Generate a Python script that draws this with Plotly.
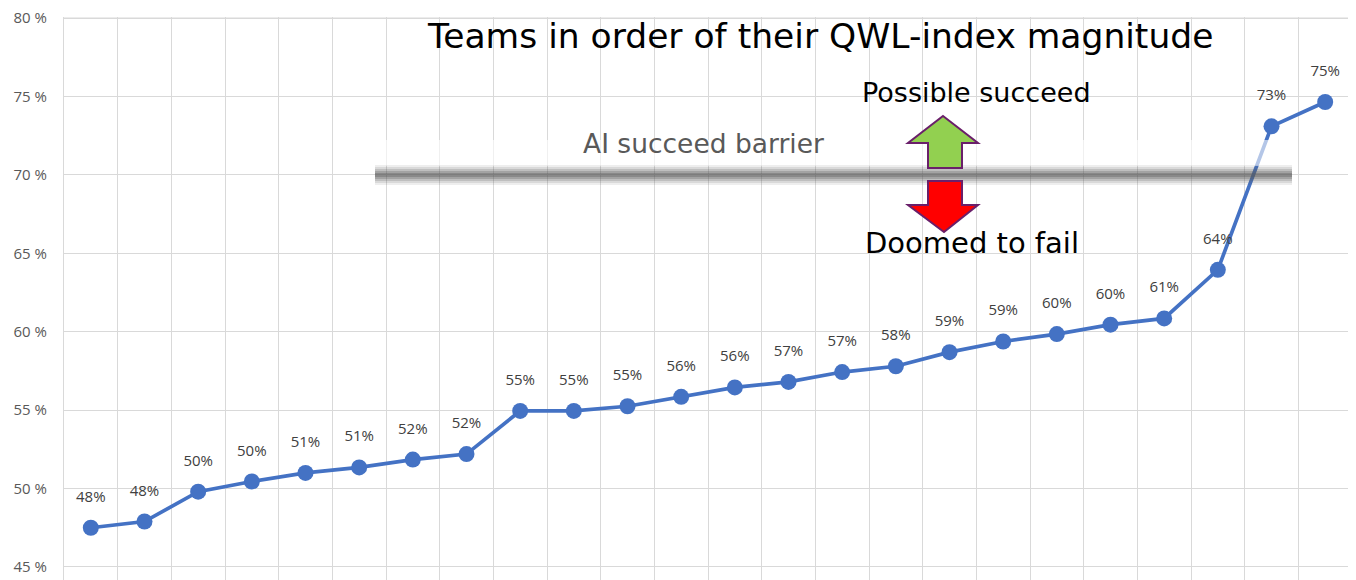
import plotly.graph_objects as go

# ---- data ----
teams = list(range(1, 25))
qwl_index = [47.5, 47.9, 49.8, 50.45, 51.0, 51.35, 51.85, 52.2, 54.95, 54.95,
             55.25, 55.85, 56.45, 56.8, 57.43, 57.8, 58.7, 59.38, 59.85, 60.45,
             60.85, 63.95, 73.1, 74.65]
y_ticks = [45, 50, 55, 60, 65, 70, 75, 80]
barrier = 70.0

# page body adds an 8px margin; size the figure so it fits the 1356x580 window
OFF = 8
W, H = 1356 - OFF, 580 - OFF
L, R, T, B = 64 - OFF, 4, 17 - OFF, 0
pw, ph = W - L - R, H - T - B


def px(x):  # screen pixel -> paper fraction
    return (x - OFF - L) / pw


def py(y):
    return (H - B - (y - OFF)) / ph


fig = go.Figure()
fig.add_trace(go.Scatter(
    x=teams, y=qwl_index, mode="lines+markers",
    line=dict(color="#4472c4", width=3.7),
    marker=dict(color="#4472c4", size=16),
    hoverinfo="skip",
))
fig.add_trace(go.Scatter(
    x=teams, y=qwl_index, mode="markers+text",
    marker=dict(size=34, opacity=0),
    texttemplate="%{y:.0f}%", textposition="top center",
    textfont=dict(family="Open Sans", size=15, color="#404040"),
    hoverinfo="skip", cliponaxis=False,
))

shapes = []
# top gridline (80 %)
shapes.append(dict(type="line", xref="paper", yref="y", x0=0, x1=1,
                   y0=y_ticks[-1], y1=y_ticks[-1],
                   line=dict(color="#d9d9d9", width=1.3), layer="below"))
# white translucent area above barrier
shapes.append(dict(type="rect", xref="paper", yref="paper",
                   x0=px(375), x1=px(1292), y0=py(166), y1=py(140),
                   fillcolor="rgba(255,255,255,0.6)", line=dict(width=0), layer="above"))
# blurred barrier band
for hh, op in [(10, 0.10), (8, 0.14), (6, 0.2), (4, 0.28), (2, 0.35)]:
    shapes.append(dict(type="rect", xref="paper", yref="y",
                       x0=px(375), x1=px(1292),
                       y0=barrier - hh / 15.68, y1=barrier + hh / 15.68,
                       fillcolor=f"rgba(90,90,90,{op})", line=dict(width=0), layer="above"))


def path(pts):
    return "M " + " L ".join(f"{px(a):.5f},{py(b):.5f}" for a, b in pts) + " Z"


up = [(943, 116), (978, 143), (962, 143), (962, 168), (928, 168), (928, 143), (908, 143)]
down = [(928, 181), (962, 181), (962, 205), (978, 205), (944, 232), (908, 205), (928, 205)]
shapes.append(dict(type="path", xref="paper", yref="paper", path=path(up),
                   fillcolor="#92d050", line=dict(color="#6a1f6a", width=2), layer="above"))
shapes.append(dict(type="path", xref="paper", yref="paper", path=path(down),
                   fillcolor="#ff0000", line=dict(color="#6a1f6a", width=2), layer="above"))

annotations = [
    dict(text="Teams in order of their QWL-index magnitude", x=px(820), y=py(36),
         font=dict(family="DejaVu Sans", size=34.5, color="#000000")),
    dict(text="AI succeed barrier", x=px(703), y=py(143),
         font=dict(family="DejaVu Sans", size=26.5, color="#595959")),
    dict(text="Possible succeed", x=px(976), y=py(93),
         font=dict(family="DejaVu Sans", size=27, color="#000000")),
    dict(text="Doomed to fail", x=px(972), y=py(243),
         font=dict(family="DejaVu Sans", size=29, color="#000000")),
]
for a in annotations:
    a.update(xref="paper", yref="paper", showarrow=False, xanchor="center", yanchor="middle")

fig.update_layout(
    width=W, height=H, margin=dict(l=L, r=R, t=T, b=B, autoexpand=False),
    paper_bgcolor="white", plot_bgcolor="white", showlegend=False,
    shapes=shapes, annotations=annotations,
    xaxis=dict(range=[0.5, 24.5], tick0=0.5, dtick=1, showticklabels=False,
               showgrid=True, gridcolor="#d9d9d9", gridwidth=1.3, zeroline=False,
               showline=False, fixedrange=True),
    yaxis=dict(range=[44.17, 80.07], tickvals=y_ticks, ticktext=[f"{v} %" for v in y_ticks],
               showgrid=True, gridcolor="#d9d9d9", gridwidth=1.3, zeroline=False,
               showline=True, mirror=True, linecolor="#d9d9d9", linewidth=1.3,
               tickfont=dict(family="Open Sans", size=15, color="#595959"),
               ticklabelstandoff=13, ticklabeloverflow="allow",
               fixedrange=True, automargin=False),
)

fig.write_html("out.html")
